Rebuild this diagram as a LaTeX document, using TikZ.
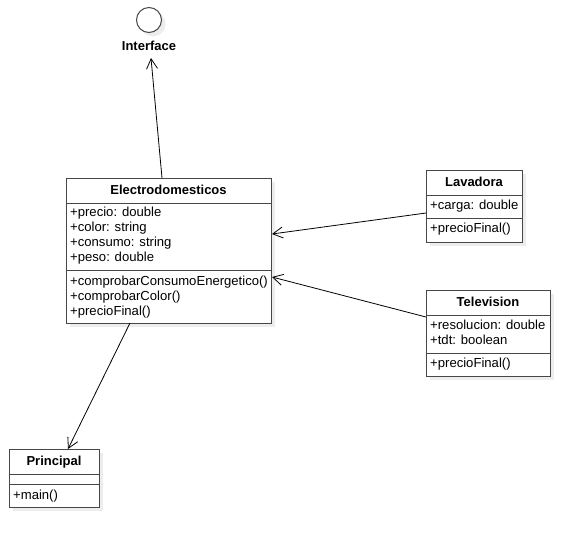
\documentclass[tikz,border=0pt]{standalone}
\usepackage{fontspec}
\setmainfont{Liberation Sans}
\usetikzlibrary{arrows.meta}
\begin{document}
\begin{tikzpicture}[x=1pt,y=-1pt,
  every node/.style={font=\fontsize{13.1}{15}\selectfont, inner sep=0pt},
  classbox/.style={draw=black!72, line width=1pt, fill=white, anchor=north west, inner sep=0pt},
  shadowfill/.style={fill=black!7},
  divider/.style={draw=black!72, line width=1pt},
  member/.style={anchor=west},
  title/.style={font=\fontsize{13}{15}\selectfont\bfseries},
  assoc/.style={draw=black, line width=0.8pt, -{Straight Barb[length=10pt,width=11pt,line width=0.8pt]}}
]
\useasboundingbox (0,0) rectangle (588,547);

% ---- shadows
\fill[shadowfill] (153,24) circle (12.5);
\fill[shadowfill] (70,182) rectangle ++(205,145);
\fill[shadowfill] (430,174) rectangle ++(96,72);
\fill[shadowfill] (430,294) rectangle ++(124,86);
\fill[shadowfill] (13,453) rectangle ++(90,58);

% ---- interface lollipop
\node[draw=black!72, line width=1pt, fill=white, circle, minimum size=25pt] (iface) at (149,20) {};
\node[title] (ifacelabel) at (149,46) {Interface};

% ---- Electrodomesticos
\node[classbox, minimum width=205pt, minimum height=145pt] (electro) at (66,178) {};
\draw[divider] (66,203) -- (271,203);
\draw[divider] (66,270) -- (271,270);
\node[title] (electrotitle) at (168.5,190) {Electrodomesticos};
\node[member] (e1) at (70,213) {+precio: double};
\node[member] (e2) at (70,228) {+color: string};
\node[member] (e3) at (70,243) {+consumo: string};
\node[member] (e4) at (70,258) {+peso: double};
\node[member] (e5) at (70,282) {+comprobarConsumoEnergetico()};
\node[member] (e6) at (70,297) {+comprobarColor()};
\node[member] (e7) at (70,312) {+precioFinal()};

% ---- Lavadora
\node[classbox, minimum width=96pt, minimum height=72pt] (lavadora) at (426,170) {};
\draw[divider] (426,195) -- (522,195);
\draw[divider] (426,218) -- (522,218);
\node[title] (lavtitle) at (474,182) {Lavadora};
\node[member] (l1) at (430,206) {+carga: double};
\node[member] (l2) at (430,229) {+precioFinal()};

% ---- Television
\node[classbox, minimum width=124pt, minimum height=86pt] (television) at (426,290) {};
\draw[divider] (426,315) -- (550,315);
\draw[divider] (426,353) -- (550,353);
\node[title] (tvtitle) at (488,302) {Television};
\node[member] (t1) at (430,325) {+resolucion: double};
\node[member] (t2) at (430,340) {+tdt: boolean};
\node[member] (t3) at (430,364) {+precioFinal()};

% ---- Principal
\node[classbox, minimum width=90pt, minimum height=58pt] (principal) at (9,449) {};
\draw[divider] (9,474) -- (99,474);
\draw[divider] (9,484) -- (99,484);
\node[title] (princtitle) at (54,462) {Principal};
\node[member] (p1) at (13,496) {+main()};

% ---- connector end points on the class borders
\coordinate (electro-top) at (162,178);
\coordinate (iface-end) at (151,58);
\coordinate (lav-out) at (426,213);
\coordinate (electro-in1) at (272,234);
\coordinate (tv-out) at (426,317);
\coordinate (electro-in2) at (272,277);
\coordinate (electro-bottom) at (130,323);
\coordinate (princ-top) at (68,449);

% ---- connectors
\draw[assoc] (electro-top) -- (iface-end);
\draw[assoc] (lav-out) -- (electro-in1);
\draw[assoc] (tv-out) -- (electro-in2);
\draw[assoc] (electro-bottom) -- (princ-top);
\end{tikzpicture}
\end{document}
